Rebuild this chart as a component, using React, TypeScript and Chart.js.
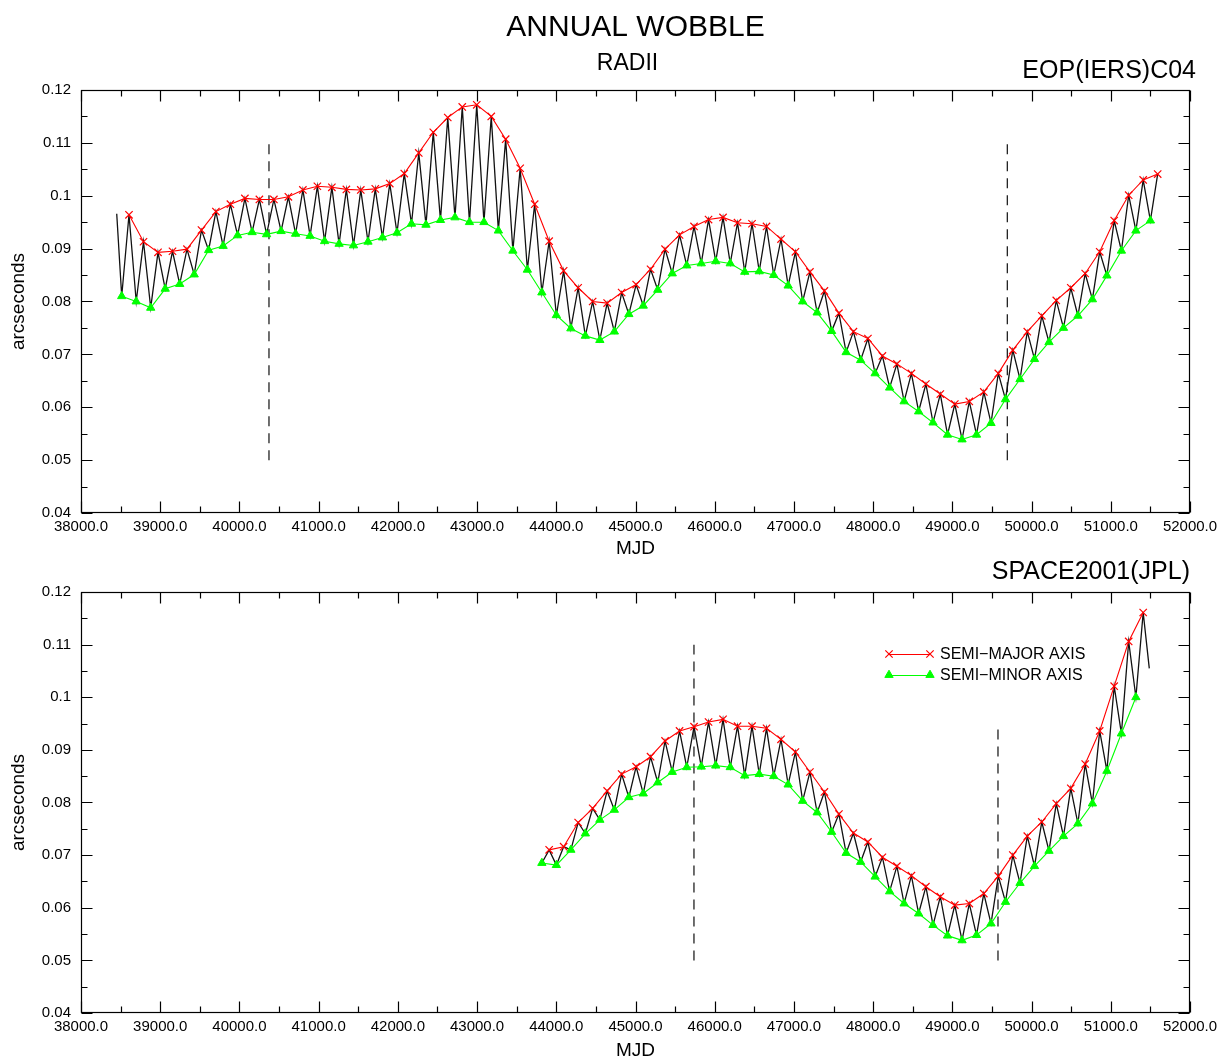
import { useEffect, useRef } from 'react';
import { Chart, registerables } from 'chart.js';

Chart.register(...registerables);

const FONT = "'Liberation Sans', Arial, Helvetica, sans-serif";
Chart.defaults.font.family = FONT;
Chart.defaults.color = '#000';

// ---------- axes ----------
const xMajorTicks = [38000, 39000, 40000, 41000, 42000, 43000, 44000, 45000, 46000, 47000, 48000, 49000, 50000, 51000, 52000];
const xMinorTicks = [38500, 39500, 40500, 41500, 42500, 43500, 44500, 45500, 46500, 47500, 48500, 49500, 50500, 51500];
const yMajorTicks = [0.04, 0.05, 0.06, 0.07, 0.08, 0.09, 0.1, 0.11, 0.12];
const yMinorTicks = [0.045, 0.055, 0.065, 0.075, 0.085, 0.095, 0.105, 0.115];

// ---------- EOP(IERS)C04 ----------
const eopMajorMjd = [
  38606, 38789, 38972, 39155, 39338, 39521, 39703, 39886, 40069, 40252, 40435, 40618,
  40801, 40984, 41167, 41350, 41532, 41715, 41898, 42081, 42264, 42447, 42630, 42813,
  42996, 43179, 43361, 43544, 43727, 43910, 44093, 44276, 44459, 44642, 44825, 45008,
  45190, 45373, 45556, 45739, 45922, 46105, 46288, 46471, 46654, 46837, 47019, 47202,
  47385, 47568, 47751, 47934, 48117, 48300, 48483, 48666, 48848, 49031, 49214, 49397,
  49580, 49763, 49946, 50129, 50312, 50495, 50677, 50860, 51043, 51226, 51409, 51592,
];
const eopMajor = [
  0.0964, 0.0913, 0.0893, 0.0895, 0.0899, 0.0935, 0.0970, 0.0984, 0.0995, 0.0993, 0.0993, 0.0998,
  0.1011, 0.1018, 0.1016, 0.1012, 0.1011, 0.1013, 0.1023, 0.1042, 0.1081, 0.1120, 0.1148, 0.1168,
  0.1172, 0.1150, 0.1107, 0.1052, 0.0984, 0.0914, 0.0858, 0.0826, 0.0800, 0.0797, 0.0817, 0.0832,
  0.0861, 0.0899, 0.0926, 0.0942, 0.0955, 0.0959, 0.0949, 0.0947, 0.0942, 0.0918, 0.0894, 0.0856,
  0.0820, 0.0778, 0.0743, 0.0730, 0.0697, 0.0682, 0.0664, 0.0644, 0.0625, 0.0606, 0.0611, 0.0629,
  0.0664, 0.0708, 0.0743, 0.0773, 0.0802, 0.0826, 0.0853, 0.0894, 0.0953, 0.1001, 0.1030, 0.1041,
];
const eopMinorMjd = [
  38514, 38697, 38880, 39063, 39246, 39429, 39611, 39794, 39977, 40160, 40343, 40526,
  40709, 40892, 41075, 41258, 41440, 41623, 41806, 41989, 42172, 42355, 42538, 42721,
  42904, 43087, 43269, 43452, 43635, 43818, 44001, 44184, 44367, 44550, 44733, 44916,
  45098, 45281, 45464, 45647, 45830, 46013, 46196, 46379, 46562, 46745, 46927, 47110,
  47293, 47476, 47659, 47842, 48025, 48208, 48391, 48574, 48756, 48939, 49122, 49305,
  49488, 49671, 49854, 50037, 50220, 50403, 50585, 50768, 50951, 51134, 51317, 51500,
];
const eopMinor = [
  0.0810, 0.0800, 0.0788, 0.0824, 0.0833, 0.0851, 0.0897, 0.0905, 0.0925, 0.0931, 0.0927, 0.0933,
  0.0928, 0.0924, 0.0914, 0.0909, 0.0906, 0.0913, 0.0921, 0.0930, 0.0947, 0.0945, 0.0954, 0.0959,
  0.0950, 0.0950, 0.0934, 0.0896, 0.0860, 0.0817, 0.0774, 0.0749, 0.0735, 0.0727, 0.0743, 0.0776,
  0.0792, 0.0822, 0.0853, 0.0868, 0.0872, 0.0876, 0.0872, 0.0856, 0.0857, 0.0850, 0.0830, 0.0800,
  0.0779, 0.0744, 0.0704, 0.0689, 0.0664, 0.0637, 0.0611, 0.0592, 0.0571, 0.0548, 0.0539, 0.0548,
  0.0570, 0.0615, 0.0653, 0.0691, 0.0723, 0.0750, 0.0773, 0.0804, 0.0849, 0.0896, 0.0934, 0.0953,
];
const eopTraceExtra = [[38451, 0.0966]];
const eopEpochs = [
  { mjd: 40373, from: 0.05, to: 0.11 },
  { mjd: 49694, from: 0.05, to: 0.11 },
];

// ---------- SPACE2001(JPL) ----------
const jplMajorMjd = eopMajorMjd.slice(29, 71);
const jplMajor = [
  0.0710, 0.0716, 0.0762, 0.0789, 0.0822, 0.0854, 0.0868, 0.0887, 0.0917, 0.0936, 0.0944, 0.0953,
  0.0958, 0.0945, 0.0945, 0.0941, 0.0920, 0.0896, 0.0858, 0.0820, 0.0778, 0.0742, 0.0725, 0.0696,
  0.0679, 0.0661, 0.0640, 0.0621, 0.0605, 0.0608, 0.0627, 0.0660, 0.0700, 0.0736, 0.0763, 0.0798,
  0.0827, 0.0873, 0.0936, 0.1021, 0.1106, 0.1161,
];
const jplMinorMjd = eopMinorMjd.slice(29, 71);
const jplMinor = [
  0.0685, 0.0681, 0.0710, 0.0741, 0.0767, 0.0786, 0.0810, 0.0817, 0.0838, 0.0858, 0.0867, 0.0868,
  0.0870, 0.0867, 0.0851, 0.0854, 0.0850, 0.0834, 0.0803, 0.0781, 0.0744, 0.0704, 0.0687, 0.0659,
  0.0631, 0.0608, 0.0589, 0.0567, 0.0547, 0.0538, 0.0548, 0.0570, 0.0611, 0.0647, 0.0679, 0.0708,
  0.0736, 0.0760, 0.0798, 0.0860, 0.0931, 0.1000,
];
const jplTraceExtra = [[51486, 0.1055]];
const jplEpochs = [
  { mjd: 45738, from: 0.05, to: 0.11 },
  { mjd: 49576, from: 0.05, to: 0.095 },
];

const seriesLabels = ['SEMI\u2212MAJOR AXIS', 'SEMI\u2212MINOR AXIS'];

// ---------- plugins ----------
const framePlugin = {
  id: 'frameTicks',
  afterDraw(chart: any) {
    const { ctx, chartArea: a, scales } = chart;
    const xs = scales.x;
    const ys = scales.y;
    const L = Math.round(a.left) + 0.5;
    const R = Math.round(a.right) - 0.5;
    const T = Math.round(a.top) + 0.5;
    const B = Math.round(a.bottom) - 0.5;
    ctx.save();
    ctx.strokeStyle = '#000';
    ctx.lineWidth = 1.2;
    ctx.beginPath();
    const tick = (vals: number[], len: number) => {
      vals.forEach((v) => {
        const px = Math.round(xs.getPixelForValue(v)) + 0.5;
        ctx.moveTo(px, B); ctx.lineTo(px, B - len);
        ctx.moveTo(px, T); ctx.lineTo(px, T + len);
      });
    };
    const ytick = (vals: number[], len: number) => {
      vals.forEach((v) => {
        const py = Math.round(ys.getPixelForValue(v)) + 0.5;
        ctx.moveTo(L, py); ctx.lineTo(L + len, py);
        ctx.moveTo(R, py); ctx.lineTo(R - len, py);
      });
    };
    tick(xMajorTicks, 11);
    tick(xMinorTicks, 6);
    ytick(yMajorTicks, 11);
    ytick(yMinorTicks, 6);
    ctx.stroke();
    ctx.strokeRect(L, T, R - L, B - T);
    ctx.restore();
  },
};

const captionPlugin = {
  id: 'captions',
  afterDraw(chart: any, _args: any, opts: any) {
    const { ctx, chartArea: a } = chart;
    ctx.save();
    ctx.fillStyle = '#000';
    ctx.textBaseline = 'alphabetic';
    (opts.items || []).forEach((c: any) => {
      ctx.font = `${c.size}px ${FONT}`;
      let x = c.x;
      if (c.x === 'center') x = (a.left + a.right) / 2 + (c.dx || 0);
      if (c.x === 'right') x = a.right + (c.dx || 0);
      ctx.textAlign = c.align;
      ctx.fillText(c.text, x, c.y);
    });
    ctx.restore();
  },
};

const insetLegendPlugin = {
  id: 'insetLegend',
  afterDraw(chart: any, _args: any, opts: any) {
    if (!opts.show) return;
    const { ctx } = chart;
    ctx.save();
    opts.rows.forEach((y: number, i: number) => {
      const ds = chart.data.datasets[i];
      const color = ds.borderColor;
      ctx.strokeStyle = color;
      ctx.fillStyle = color;
      ctx.lineWidth = 1;
      ctx.beginPath();
      ctx.moveTo(opts.x0, y + 0.5);
      ctx.lineTo(opts.x1, y + 0.5);
      ctx.stroke();
      [opts.x0, opts.x1].forEach((px: number) => {
        const r = ds.pointRadius;
        if (ds.pointStyle === 'crossRot') {
          const d = r * Math.SQRT1_2;
          ctx.lineWidth = ds.pointBorderWidth;
          ctx.beginPath();
          ctx.moveTo(px - d, y - d); ctx.lineTo(px + d, y + d);
          ctx.moveTo(px - d, y + d); ctx.lineTo(px + d, y - d);
          ctx.stroke();
        } else {
          ctx.beginPath();
          ctx.moveTo(px, y - r);
          ctx.lineTo(px + r * 0.866, y + r * 0.5);
          ctx.lineTo(px - r * 0.866, y + r * 0.5);
          ctx.closePath();
          ctx.fill();
          ctx.stroke();
        }
      });
      ctx.fillStyle = '#000';
      ctx.font = `${opts.size}px ${FONT}`;
      ctx.textAlign = 'left';
      ctx.textBaseline = 'middle';
      ctx.fillText(ds.label, opts.textX, y + 1);
    });
    ctx.restore();
  },
};

type PanelDef = {
  majorMjd: number[]; major: number[]; minorMjd: number[]; minor: number[];
  extra: number[][]; epochs: { mjd: number; from: number; to: number }[];
  padTop: number; xAxisHeight: number; mjdPad: number;
  captions: any[]; legend: any;
};

function makeConfig(p: PanelDef): any {
  const major = p.majorMjd.map((x, i) => ({ x, y: p.major[i] }));
  const minor = p.minorMjd.map((x, i) => ({ x, y: p.minor[i] }));
  const trace = [...major, ...minor, ...p.extra.map(([x, y]) => ({ x, y }))].sort((a, b) => a.x - b.x);
  const datasets: any[] = [
    {
      label: seriesLabels[0], data: major, borderColor: '#ff0000', backgroundColor: '#ff0000',
      borderWidth: 1.1, pointStyle: 'crossRot', pointRadius: 5.2, pointBorderWidth: 1.2,
      pointBorderColor: '#ff0000', order: 1,
    },
    {
      label: seriesLabels[1], data: minor, borderColor: '#00ff00', backgroundColor: '#00ff00',
      borderWidth: 1.1, pointStyle: 'triangle', pointRadius: 4.8, pointBorderWidth: 1,
      pointBorderColor: '#00ff00', pointBackgroundColor: '#00ff00', order: 2,
    },
    { label: 'radius', data: trace, borderColor: '#111', borderWidth: 1.3, pointRadius: 0, order: 3 },
    ...p.epochs.map((e) => ({
      label: 'epoch', data: [{ x: e.mjd, y: e.from }, { x: e.mjd, y: e.to }],
      borderColor: '#222', borderWidth: 1.3, borderDash: [10, 7], pointRadius: 0, order: 4,
    })),
  ];
  return {
    type: 'line',
    data: { datasets },
    options: {
      animation: false,
      responsive: false,
      events: [],
      layout: { padding: { top: p.padTop, right: 39, left: 0, bottom: 0 } },
      scales: {
        x: {
          type: 'linear', min: 38000, max: 52000,
          afterBuildTicks: (s: any) => { s.ticks = xMajorTicks.map((v) => ({ value: v })); },
          afterFit: (s: any) => { s.height = p.xAxisHeight; },
          grid: { display: false, drawTicks: false },
          border: { display: false },
          ticks: {
            autoSkip: false, maxRotation: 0, minRotation: 0, padding: 5, color: '#000',
            font: { size: 15 }, callback: (v: any) => Number(v).toFixed(1),
          },
          title: {
            display: true, text: 'MJD', color: '#000', font: { size: 19, lineHeight: 1 },
            padding: { top: 0, bottom: p.mjdPad },
          },
        },
        y: {
          type: 'linear', min: 0.04, max: 0.12,
          afterBuildTicks: (s: any) => { s.ticks = yMajorTicks.map((v) => ({ value: v })); },
          afterFit: (s: any) => { s.width = 81; },
          grid: { display: false, drawTicks: false },
          border: { display: false },
          ticks: {
            padding: 10, color: '#000', font: { size: 15 },
            callback: (v: any) => String(Number(Number(v).toFixed(3))),
          },
          title: {
            display: true, text: 'arcseconds', color: '#000', font: { size: 19, lineHeight: 1 },
            padding: { top: 9, bottom: 0 },
          },
        },
      },
      plugins: {
        legend: { display: false },
        tooltip: { enabled: false },
        captions: { items: p.captions },
        insetLegend: p.legend,
      },
    },
    plugins: [framePlugin, captionPlugin, insetLegendPlugin],
  };
}

const topPanel: PanelDef = {
  majorMjd: eopMajorMjd, major: eopMajor, minorMjd: eopMinorMjd, minor: eopMinor,
  extra: eopTraceExtra, epochs: eopEpochs,
  padTop: 90, xAxisHeight: 47, mjdPad: 2,
  captions: [
    { text: 'ANNUAL WOBBLE', x: 'center', y: 36, size: 30, align: 'center' },
    { text: 'RADII', x: 'center', y: 70, size: 23, align: 'center', dx: -8 },
    { text: 'EOP(IERS)C04', x: 'right', y: 78, size: 25, align: 'right', dx: 6 },
  ],
  legend: { show: false },
};

const bottomPanel: PanelDef = {
  majorMjd: jplMajorMjd, major: jplMajor, minorMjd: jplMinorMjd, minor: jplMinor,
  extra: jplTraceExtra, epochs: jplEpochs,
  padTop: 32, xAxisHeight: 48, mjdPad: 1,
  captions: [
    { text: 'SPACE2001(JPL)', x: 'right', y: 19, size: 25, align: 'right' },
  ],
  legend: { show: true, x0: 889, x1: 930, textX: 940, rows: [94, 115], size: 16 },
};

function PanelChart({ def, top, height }: { def: PanelDef; top: number; height: number }) {
  const ref = useRef<HTMLCanvasElement>(null);
  useEffect(() => {
    const chart = new Chart(ref.current as HTMLCanvasElement, makeConfig(def));
    return () => chart.destroy();
  }, [def]);
  return (
    <canvas
      ref={ref}
      width={1229}
      height={height}
      style={{ position: 'absolute', left: 0, top, width: 1229, height, display: 'block' }}
    />
  );
}

export default function App() {
  useEffect(() => {
    document.body.style.margin = '0';
    document.body.style.background = '#fff';
  }, []);
  return (
    <div style={{ position: 'relative', width: 1229, height: 1061, background: '#fff', overflow: 'hidden' }}>
      <PanelChart def={topPanel} top={0} height={560} />
      <PanelChart def={bottomPanel} top={560} height={501} />
    </div>
  );
}
